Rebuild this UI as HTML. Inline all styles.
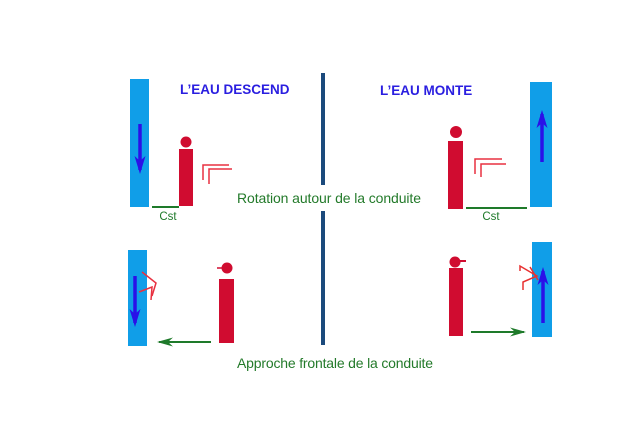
<!DOCTYPE html>
<html><head><meta charset="utf-8"><style>body{margin:0;background:#fff}svg{display:block}</style></head><body>
<svg width="640" height="427" viewBox="0 0 640 427" xmlns="http://www.w3.org/2000/svg" font-family="Liberation Sans, sans-serif">
<rect width="640" height="427" fill="#fff"/>
<defs>
<marker id="ab" markerWidth="18" markerHeight="11" refX="14" refY="5.5" orient="auto" markerUnits="userSpaceOnUse"><path d="M0,0 L18,5.5 L0,11 L5,5.5z" fill="#2a10e8"/></marker>
<marker id="ag" markerWidth="16" markerHeight="9" refX="14" refY="4.5" orient="auto" markerUnits="userSpaceOnUse"><path d="M0,0 L16,4.5 L0,9 L5,4.5z" fill="#1e7a2a"/></marker>
</defs>
<line x1="323" y1="73" x2="323" y2="185" stroke="#1b4a7c" stroke-width="4"/>
<line x1="323" y1="211" x2="323" y2="345" stroke="#1b4a7c" stroke-width="4"/>
<text x="180" y="94" font-size="13.5" font-weight="bold" fill="#2a1ee0">L’EAU DESCEND</text>
<text x="380" y="95" font-size="13.5" font-weight="bold" fill="#2a1ee0">L’EAU MONTE</text>
<text x="329" y="203" font-size="14" fill="#237a2a" text-anchor="middle" textLength="184">Rotation autour de la conduite</text>
<text x="335" y="368" font-size="14" fill="#237a2a" text-anchor="middle" textLength="196">Approche frontale de la conduite</text>
<!-- top left -->
<rect x="130" y="79" width="19" height="128" fill="#109ee8"/>
<line x1="140" y1="124" x2="140" y2="170" stroke="#2a10e8" stroke-width="3.5" marker-end="url(#ab)"/>
<rect x="179" y="149" width="14" height="57" fill="#d00c30"/>
<circle cx="186" cy="142" r="5.5" fill="#d00c30"/>
<polyline points="229,165 203,165 203,180" fill="none" stroke="#e83040" stroke-width="1.5"/>
<polyline points="232,169 209,169 209,184" fill="none" stroke="#e83040" stroke-width="1.5"/>
<line x1="152" y1="207" x2="179" y2="207" stroke="#1e7a2a" stroke-width="2"/>
<text x="168" y="220" font-size="11.5" fill="#1e7a2a" text-anchor="middle">Cst</text>
<!-- top right -->
<rect x="530" y="82" width="22" height="125" fill="#109ee8"/>
<line x1="542" y1="162" x2="542" y2="114" stroke="#2a10e8" stroke-width="3.5" marker-end="url(#ab)"/>
<rect x="448" y="141" width="15" height="68" fill="#d00c30"/>
<circle cx="456" cy="132" r="6" fill="#d00c30"/>
<polyline points="502,159 475,159 475,174" fill="none" stroke="#e83040" stroke-width="1.5"/>
<polyline points="506,164 481,164 481,177" fill="none" stroke="#e83040" stroke-width="1.5"/>
<line x1="466" y1="208" x2="527" y2="208" stroke="#1e7a2a" stroke-width="2"/>
<text x="491" y="220" font-size="11.5" fill="#1e7a2a" text-anchor="middle">Cst</text>
<!-- bottom left -->
<rect x="128" y="250" width="19" height="96" fill="#109ee8"/>
<line x1="135" y1="276" x2="135" y2="323" stroke="#2a10e8" stroke-width="3.5" marker-end="url(#ab)"/>
<polyline points="142,272 156,283 152,296" fill="none" stroke="#e83040" stroke-width="1.5"/>
<polyline points="139,292 152,287 151,300" fill="none" stroke="#e83040" stroke-width="1.5"/>
<rect x="219" y="279" width="15" height="64" fill="#d00c30"/>
<circle cx="227" cy="268" r="5.5" fill="#d00c30"/>
<line x1="217" y1="268" x2="222" y2="268" stroke="#d00c30" stroke-width="1.5"/>
<line x1="211" y1="342" x2="159" y2="342" stroke="#1e7a2a" stroke-width="2" marker-end="url(#ag)"/>
<!-- bottom right -->
<rect x="532" y="242" width="20" height="95" fill="#109ee8"/>
<line x1="543" y1="323" x2="543" y2="271" stroke="#2a10e8" stroke-width="3.5" marker-end="url(#ab)"/>
<polyline points="520,271 520,266 537,276 523,282 523,290" fill="none" stroke="#e83030" stroke-width="1.5"/>
<line x1="530" y1="267" x2="538" y2="280" stroke="#e83030" stroke-width="1.5"/>
<rect x="449" y="268" width="14" height="68" fill="#d00c30"/>
<circle cx="455" cy="262" r="5.5" fill="#d00c30"/>
<line x1="459" y1="261" x2="466" y2="261" stroke="#d00c30" stroke-width="2"/>
<line x1="471" y1="332" x2="524" y2="332" stroke="#1e7a2a" stroke-width="2" marker-end="url(#ag)"/>
</svg>
</body></html>
